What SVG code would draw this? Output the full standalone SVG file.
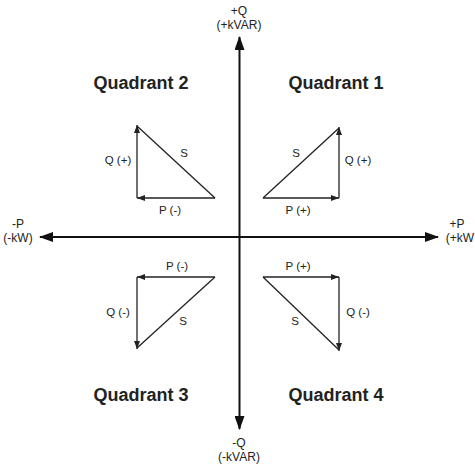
<svg xmlns="http://www.w3.org/2000/svg" width="475" height="466" viewBox="0 0 475 466">
<defs>
<style>
.ax{stroke:#111;stroke-width:2;fill:none}
.v{stroke:#222;stroke-width:1.3;fill:none}
.t{font-family:"Liberation Sans",Arial,sans-serif;font-size:11.5px;fill:#222;text-anchor:middle}
.a{font-family:"Liberation Sans",Arial,sans-serif;font-size:12px;fill:#222;text-anchor:middle}
.q{font-family:"Liberation Sans",Arial,sans-serif;font-size:18px;font-weight:bold;fill:#222;text-anchor:middle}
</style>
<marker id="big" markerWidth="14" markerHeight="10" refX="13" refY="5" orient="auto" markerUnits="userSpaceOnUse"><path d="M0,0 L14,5 L0,10 Z" fill="#111"/></marker>
<marker id="sm" markerWidth="8" markerHeight="6" refX="8" refY="3" orient="auto" markerUnits="userSpaceOnUse"><path d="M0,0 L8,3 L0,6 Z" fill="#222"/></marker>
</defs>
<rect width="475" height="466" fill="#fff"/>
<g id="connectors">
<line class="ax" x1="239.5" y1="237" x2="239.5" y2="37" marker-end="url(#big)"/>
<line class="ax" x1="239.5" y1="237" x2="239.5" y2="429" marker-end="url(#big)"/>
<line class="ax" x1="239.5" y1="237" x2="40" y2="237" marker-end="url(#big)"/>
<line class="ax" x1="239.5" y1="237" x2="438" y2="237" marker-end="url(#big)"/>
</g>
<g id="axis-labels">
<text class="a" x="239" y="15">+Q</text>
<text class="a" x="239" y="29">(+kVAR)</text>
<text class="a" x="18" y="228">-P</text>
<text class="a" x="18" y="242">(-kW)</text>
<text class="a" x="457" y="228">+P</text>
<text class="a" x="460" y="242">(+kW</text>
<text class="a" x="239" y="447">-Q</text>
<text class="a" x="239" y="461">(-kVAR)</text>
</g>
<g id="quadrant2">
<text class="q" x="141" y="89">Quadrant 2</text>
<line class="v" x1="215" y1="198" x2="137" y2="198" marker-end="url(#sm)"/>
<line class="v" x1="137" y1="198" x2="137" y2="125" marker-end="url(#sm)"/>
<line class="v" x1="215" y1="198" x2="137" y2="126"/>
<text class="t" x="118" y="164">Q (+)</text>
<text class="t" x="184" y="157">S</text>
<text class="t" x="170" y="214">P (-)</text>
</g>
<g id="quadrant1">
<text class="q" x="336" y="89">Quadrant 1</text>
<line class="v" x1="263" y1="198" x2="339" y2="198" marker-end="url(#sm)"/>
<line class="v" x1="339" y1="198" x2="339" y2="127" marker-end="url(#sm)"/>
<line class="v" x1="263" y1="198" x2="339" y2="128"/>
<text class="t" x="358" y="164">Q (+)</text>
<text class="t" x="296" y="157">S</text>
<text class="t" x="298" y="214">P (+)</text>
</g>
<g id="quadrant3">
<text class="q" x="141" y="401">Quadrant 3</text>
<line class="v" x1="215" y1="277" x2="137" y2="277" marker-end="url(#sm)"/>
<line class="v" x1="137" y1="277" x2="137" y2="349" marker-end="url(#sm)"/>
<line class="v" x1="215" y1="277" x2="137" y2="348"/>
<text class="t" x="118" y="316">Q (-)</text>
<text class="t" x="183" y="325">S</text>
<text class="t" x="177" y="270">P (-)</text>
</g>
<g id="quadrant4">
<text class="q" x="336" y="401">Quadrant 4</text>
<line class="v" x1="263" y1="277" x2="339" y2="277" marker-end="url(#sm)"/>
<line class="v" x1="339" y1="277" x2="339" y2="351" marker-end="url(#sm)"/>
<line class="v" x1="263" y1="277" x2="339" y2="350"/>
<text class="t" x="358" y="316">Q (-)</text>
<text class="t" x="295" y="325">S</text>
<text class="t" x="298" y="270">P (+)</text>
</g>
</svg>
